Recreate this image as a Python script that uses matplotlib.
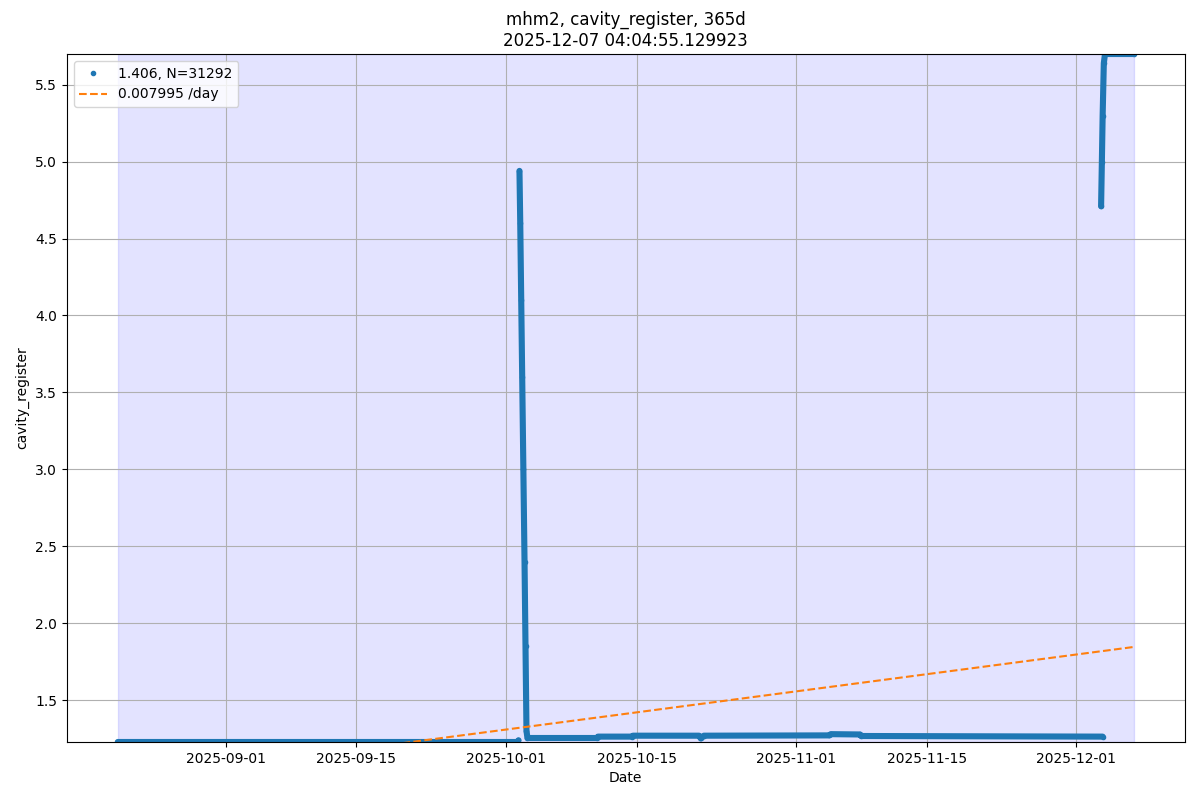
import matplotlib
matplotlib.use("Agg")
import matplotlib.pyplot as plt
import numpy as np
import pandas as pd

# readings, split where the record has gaps
pre_times = ["2025-08-20 11:00", "2025-10-02 05:00", "2025-10-02 08:00"]
pre_values = [1.227, 1.227, 1.238]

spike_times = ["2025-10-02 10:30", "2025-10-02 12:30", "2025-10-02 15:00", "2025-10-02 17:30",
               "2025-10-02 20:30", "2025-10-02 23:30", "2025-10-03 02:00", "2025-10-03 04:30",
               "2025-10-03 07:00", "2025-10-10 18:00", "2025-10-10 20:00", "2025-10-14 12:00",
               "2025-10-14 14:00", "2025-10-21 16:00", "2025-10-21 20:00", "2025-10-22 04:00",
               "2025-11-04 14:00", "2025-11-04 18:00", "2025-11-07 20:00", "2025-11-08 00:00",
               "2025-12-03 20:00"]
spike_values = [4.94, 4.60, 4.10, 3.60,
                3.00, 2.40, 1.85, 1.30,
                1.253, 1.253, 1.262, 1.262,
                1.268, 1.268, 1.250, 1.268,
                1.270, 1.278, 1.276, 1.266,
                1.262]

jump_times = ["2025-12-03 16:00", "2025-12-03 18:00", "2025-12-03 20:00", "2025-12-03 23:00",
              "2025-12-04 02:00", "2025-12-07 04:04"]
jump_values = [4.71, 5.00, 5.30, 5.64, 5.70, 5.70]

mean_label = "1.406, N=31292"
slope_per_day = 0.007995
trend_end_value = 1.845
window_start = "2025-08-20 11:00"
window_end = "2025-12-07 04:04:55"

segments = [(pd.to_datetime(pre_times), pre_values),
            (pd.to_datetime(spike_times), spike_values),
            (pd.to_datetime(jump_times), jump_values)]

fig, ax = plt.subplots(figsize=(12, 8), dpi=100)
fig.subplots_adjust(left=0.0558, right=0.9872, top=0.9325, bottom=0.0725)

t0 = pd.Timestamp(window_start)
t1 = pd.Timestamp(window_end)
ax.axvspan(t0, t1, color="blue", alpha=0.11)

all_t = np.concatenate([s[0].values for s in segments])
all_v = np.concatenate([s[1] for s in segments])
ax.plot(all_t, all_v, ".", color="C0", label=mean_label)
for times, values in segments:
    ax.plot(times, values, "-", color="C0", lw=4.4, solid_capstyle="round")

span_days = (t1 - t0) / pd.Timedelta(days=1)
trend_start_value = trend_end_value - slope_per_day * span_days
ax.plot([t0, t1], [trend_start_value, trend_end_value], "--", color="C1",
        label="%g /day" % slope_per_day)

ax.set_ylim(min(all_v), max(all_v))
ax.grid()
ax.legend(loc="upper left")
ax.set_xlabel("Date")
ax.set_ylabel("cavity_register")
ax.set_title("mhm2, cavity_register, 365d\n2025-12-07 04:04:55.129923")
fig.savefig("out.png")
